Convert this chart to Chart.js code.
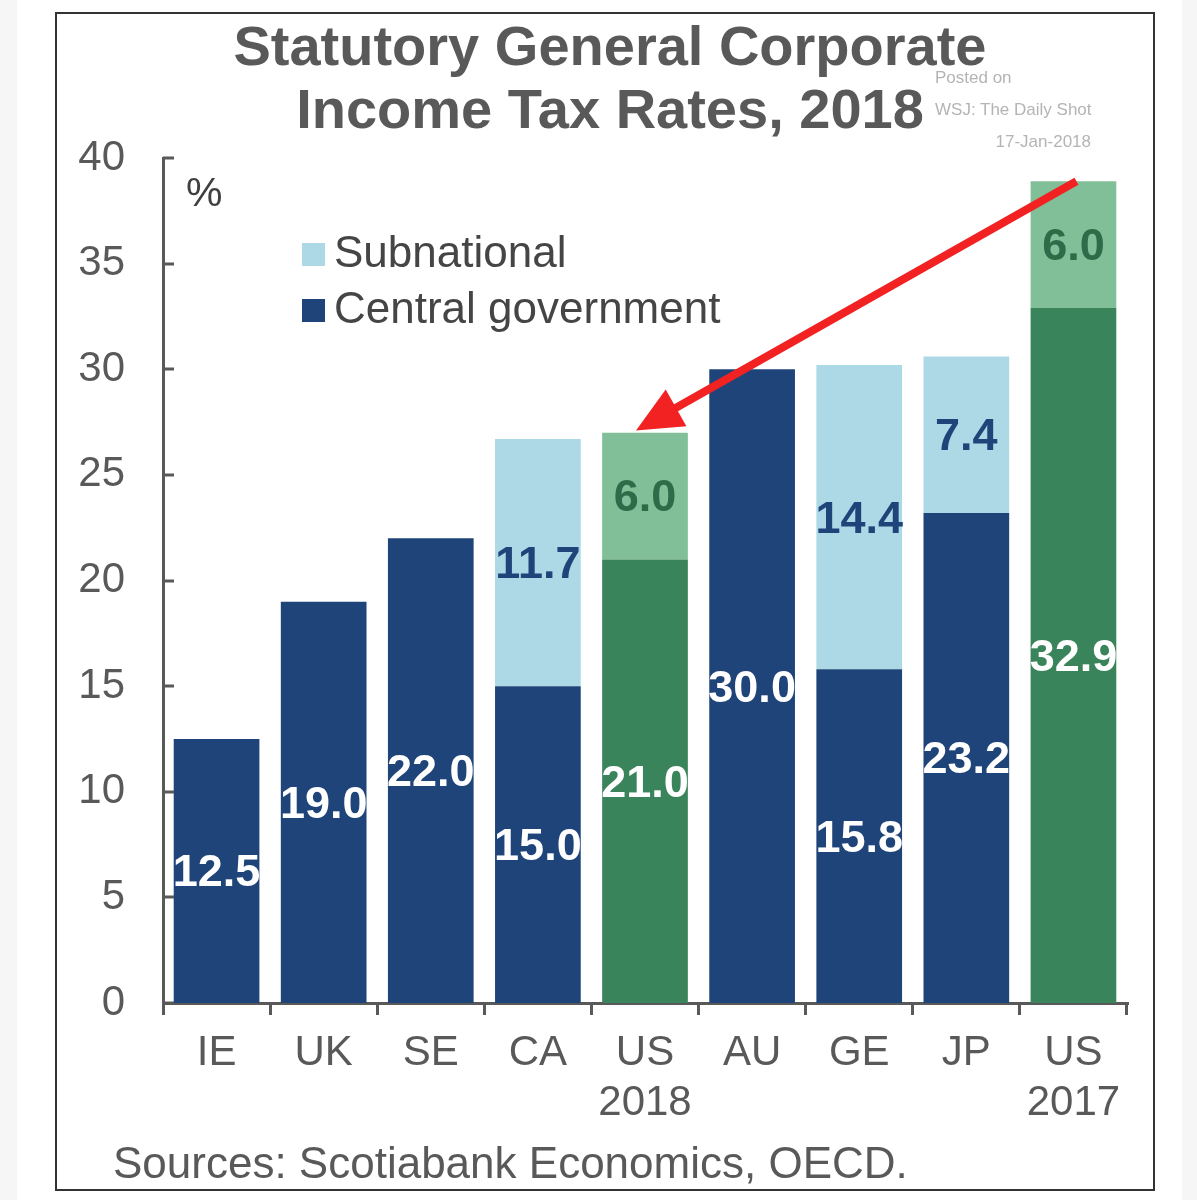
<!DOCTYPE html>
<html>
<head>
<meta charset="utf-8">
<title>Statutory General Corporate Income Tax Rates, 2018</title>
<script src="https://cdn.jsdelivr.net/npm/chart.js@4.4.1/dist/chart.umd.min.js"></script>
<style>
  html, body { margin: 0; padding: 0; background: #fff; }
  body { width: 1197px; height: 1200px; position: relative; overflow: hidden; font-family: "Liberation Sans", Arial, sans-serif; }
  .side { position: absolute; top: 0; height: 1200px; background: #f6f6f6; }
  #frame { position: absolute; left: 55px; top: 12px; width: 1100px; height: 1179px; border: 2px solid #333; box-sizing: border-box; }
  #chart { position: absolute; left: 0; top: 0; }
  .txt { position: absolute; white-space: nowrap; }
  #title { left: 110px; width: 1000px; top: 14px; text-align: center; font-weight: bold; font-size: 56px; line-height: 63px; color: #595959; }
  #pct { left: 186px; top: 168px; font-size: 41px; line-height: 48px; color: #404040; }
  #source { left: 113px; top: 1138px; font-size: 44px; line-height: 50px; color: #595959; }
  .wm { font-size: 17px; line-height: 20px; color: #b4b4b4; }
</style>
</head>
<body>
<div class="side" style="left:0;width:17px"></div>
<div class="side" style="left:1182px;width:15px"></div>
<div id="frame"></div>
<canvas id="chart" width="1197" height="1200"></canvas>
<div id="title" class="txt">Statutory General Corporate<br>Income Tax Rates, 2018</div>
<div id="pct" class="txt">%</div>
<div class="txt wm" style="left:935px;top:68px">Posted on</div>
<div class="txt wm" style="left:935px;top:100px">WSJ: The Daily Shot</div>
<div class="txt wm" style="left:991px;width:100px;top:132px;text-align:right">17-Jan-2018</div>
<div id="source" class="txt">Sources: Scotiabank Economics, OECD.</div>
<script>
const categories = [['IE'], ['UK'], ['SE'], ['CA'], ['US', '2018'], ['AU'], ['GE'], ['JP'], ['US', '2017']]
const centralValues = [12.5, 19.0, 22.0, 15.0, 21.0, 30.0, 15.8, 23.2, 32.9]
const subnationalValues = [0, 0, 0, 11.7, 6.0, 0, 14.4, 7.4, 6.0]
const usBars = [4, 8]
const yTicks = { min: 0, max: 40, step: 5 }

const FONT = '"Liberation Sans", Arial, sans-serif'
const GREY = '#595959'
const DARK_BLUE = '#1F4479'
const LIGHT_BLUE = '#ADD8E6'
const DARK_GREEN = '#3A845B'
const LIGHT_GREEN = '#80BF97'

const isUS = i => usBars.includes(i)

// value labels centred in each segment
const valueLabels = {
    id: 'valueLabels',
    afterDatasetsDraw(chart) {
        const ctx = chart.ctx
        ctx.save()
        ctx.font = `bold 45px ${FONT}`
        ctx.textAlign = 'center'
        ctx.textBaseline = 'middle'
        chart.data.datasets.forEach((ds, i) => {
            chart.getDatasetMeta(i).data.forEach((bar, j) => {
                const v = ds.data[j]
                if (!v) return
                ctx.fillStyle = ds.labelColors[j]
                ctx.fillText(v.toFixed(1), bar.x, (bar.y + bar.base) / 2 + 3)
            })
        })
        ctx.restore()
    }
}

// red arrow from US 2017 down to US 2018
const arrow = {
    id: 'arrow',
    afterDatasetsDraw(chart) {
        const { x, y } = chart.scales
        const x0 = x.getPixelForValue(8) + 3, y0 = y.getPixelForValue(38.9)
        const x1 = x.getPixelForValue(4) - 9, y1 = y.getPixelForValue(27.1)
        const dx = x1 - x0, dy = y1 - y0
        const len = Math.hypot(dx, dy)
        const ux = dx / len, uy = dy / len
        const headLen = 46, headW = 21
        const bx = x1 - ux * headLen, by = y1 - uy * headLen
        const ctx = chart.ctx
        ctx.save()
        ctx.strokeStyle = '#F22222'
        ctx.fillStyle = '#F22222'
        ctx.lineWidth = 8
        ctx.beginPath()
        ctx.moveTo(x0, y0)
        ctx.lineTo(bx + ux * 2, by + uy * 2)
        ctx.stroke()
        ctx.beginPath()
        ctx.moveTo(x1, y1)
        ctx.lineTo(bx - uy * headW, by + ux * headW)
        ctx.lineTo(bx + uy * headW, by - ux * headW)
        ctx.closePath()
        ctx.fill()
        ctx.restore()
    }
}

// y ticks point into the plot
const innerTicks = {
    id: 'innerTicks',
    afterDraw(chart) {
        const y = chart.scales.y
        const left = chart.chartArea.left
        const ctx = chart.ctx
        ctx.save()
        ctx.strokeStyle = GREY
        ctx.lineWidth = 3
        y.ticks.forEach(t => {
            const py = Math.round(y.getPixelForValue(t.value))
            ctx.beginPath()
            ctx.moveTo(left, py)
            ctx.lineTo(left + 11, py)
            ctx.stroke()
        })
        ctx.restore()
    }
}

// legend inside the plot, top left
const insideLegend = {
    id: 'insideLegend',
    afterDraw(chart) {
        const ctx = chart.ctx
        const items = chart.data.datasets.slice().reverse()
        ctx.save()
        ctx.font = `44px ${FONT}`
        ctx.textBaseline = 'middle'
        items.forEach((ds, i) => {
            const cy = 254 + i * 56
            ctx.fillStyle = ds.legendColor
            ctx.fillRect(302, cy - 11, 23, 23)
            ctx.fillStyle = '#454545'
            ctx.fillText(ds.label, 334, cy + 1)
        })
        ctx.restore()
    }
}

new Chart(document.getElementById('chart'), {
    type: 'bar',
    data: {
        labels: categories,
        datasets: [
            {
                label: 'Central government',
                data: centralValues,
                backgroundColor: centralValues.map((v, i) => isUS(i) ? DARK_GREEN : DARK_BLUE),
                labelColors: centralValues.map(() => '#FFFFFF'),
                legendColor: DARK_BLUE,
                barPercentage: 0.8,
                categoryPercentage: 1.0
            },
            {
                label: 'Subnational',
                data: subnationalValues,
                backgroundColor: subnationalValues.map((v, i) => isUS(i) ? LIGHT_GREEN : LIGHT_BLUE),
                labelColors: subnationalValues.map((v, i) => isUS(i) ? '#2E6B48' : DARK_BLUE),
                legendColor: LIGHT_BLUE,
                barPercentage: 0.8,
                categoryPercentage: 1.0
            }
        ]
    },
    options: {
        responsive: false,
        animation: false,
        devicePixelRatio: 1,
        layout: { padding: { top: 158, right: 70, left: 0, bottom: 0 } },
        plugins: {
            legend: { display: false },
            tooltip: { enabled: false },
            title: { display: false }
        },
        scales: {
            x: {
                stacked: true,
                grid: { display: true, drawOnChartArea: false, drawTicks: true, tickLength: 12, color: GREY, lineWidth: 3, offset: true },
                border: { display: true, color: GREY, width: 3 },
                ticks: { color: GREY, font: { family: FONT, size: 42 }, padding: 13, maxRotation: 0, autoSkip: false },
                afterFit(s) { s.height = 197 }
            },
            y: {
                stacked: true,
                min: yTicks.min,
                max: yTicks.max,
                grid: { display: false, drawTicks: false },
                border: { display: true, color: GREY, width: 3 },
                ticks: { stepSize: yTicks.step, color: GREY, font: { family: FONT, size: 42 }, padding: 38 },
                afterFit(s) { s.width = 163 }
            }
        }
    },
    plugins: [valueLabels, arrow, innerTicks, insideLegend]
})
</script>
</body>
</html>
